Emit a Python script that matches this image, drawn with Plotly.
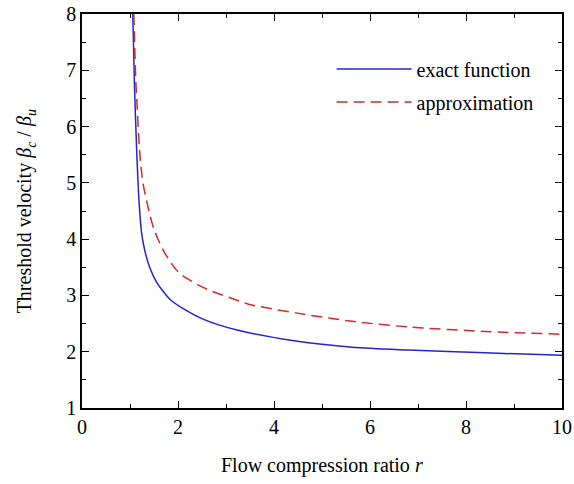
import plotly.graph_objects as go

# Flow compression ratio r and threshold velocity beta_c/beta_u
r_exact = [1.058, 1.093, 1.141, 1.19, 1.24, 1.307, 1.41, 1.55, 1.76, 1.86, 2.10, 2.52, 3.21, 4.45, 5.63, 6.80, 8.40, 10.0]
y_exact = [8.0, 6.75, 5.53, 4.65, 4.12, 3.80, 3.50, 3.24, 3.00, 2.91, 2.77, 2.58, 2.39, 2.19, 2.08, 2.03, 1.98, 1.935]

r_approx = [1.079, 1.124, 1.146, 1.203, 1.27, 1.355, 1.42, 1.51, 1.72, 2.0, 2.17, 2.48, 2.72, 3.28, 3.49, 4.45, 5.63, 6.80, 8.40, 10.0]
y_approx = [8.0, 6.75, 6.40, 5.53, 5.00, 4.65, 4.41, 4.15, 3.76, 3.42, 3.31, 3.16, 3.07, 2.90, 2.84, 2.69, 2.54, 2.44, 2.36, 2.31]

names = ["exact function", "approximation"]
x_range = [0, 10]
y_range = [1, 8]
x_title = "Flow compression ratio <i>r</i>"
y_title = "Threshold velocity <i>β<sub>c</sub></i> / <i>β<sub>u</sub></i>"

FONT = "Liberation Serif, Times New Roman, serif"
FS = 20

fig = go.Figure()
fig.add_trace(go.Scatter(x=r_exact, y=y_exact, mode="lines", name=names[0],
                         line=dict(color="#2424cf", width=1.5, shape="spline", smoothing=0.8),
                         legendgroup="a"))
fig.add_trace(go.Scatter(x=r_approx, y=y_approx, mode="lines", name=names[1],
                         line=dict(color="#d42a2a", width=1.5, dash="11px,6px", shape="spline", smoothing=0.8),
                         legendgroup="b"))

axis_common = dict(showline=True, linecolor="black", linewidth=1.5, mirror="ticks",
                   ticks="inside", ticklen=7, tickwidth=1, tickcolor="black",
                   showgrid=False, zeroline=False, automargin=True,
                   tickfont=dict(family=FONT, size=FS, color="black"))

fig.update_xaxes(range=x_range, tickmode="linear", tick0=0, dtick=2,
                 minor=dict(ticks="inside", ticklen=4, tickmode="linear", dtick=1, tick0=0,
                            tickcolor="black", tickwidth=1, showgrid=False),
                 **axis_common)
fig.update_yaxes(range=y_range, tickmode="linear", tick0=1, dtick=1,
                 minor=dict(ticks="inside", ticklen=4, tickmode="linear", dtick=0.5, tick0=1,
                            tickcolor="black", tickwidth=1, showgrid=False),
                 **axis_common)

fig.add_annotation(text=x_title, xref="paper", yref="paper", x=0.5, y=-0.145,
                   xanchor="center", yanchor="middle", showarrow=False,
                   font=dict(family=FONT, size=FS, color="black"))
fig.add_annotation(text=y_title, xref="paper", yref="paper", x=-0.118, y=0.5,
                   xanchor="center", yanchor="middle", showarrow=False, textangle=-90,
                   font=dict(family=FONT, size=FS, color="black"))

fig.update_layout(
    width=584, height=493,
    margin=dict(l=82, r=19, t=18, b=76),
    plot_bgcolor="white", paper_bgcolor="white",
    font=dict(family=FONT, size=FS, color="black"),
    legend=dict(x=0.52, y=0.91, xanchor="left", yanchor="top",
                bgcolor="rgba(0,0,0,0)", borderwidth=0,
                font=dict(family=FONT, size=FS, color="black"),
                itemwidth=75, traceorder="grouped", tracegroupgap=4),
)

fig.write_html("out.html", config={"displayModeBar": False},
               post_script="document.body.style.margin='0';document.body.style.marginTop='-9px';document.body.style.overflow='hidden';")
